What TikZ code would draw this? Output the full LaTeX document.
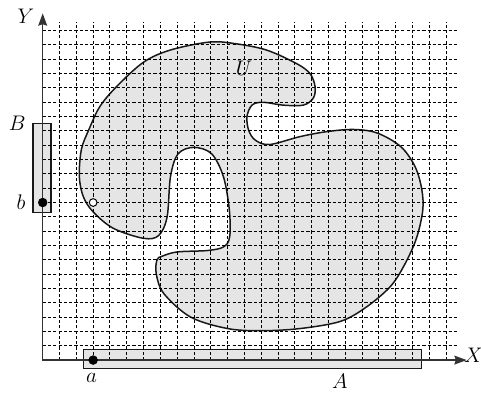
\documentclass[tikz,border=0pt]{standalone}
\usepackage{tikz}
\usetikzlibrary{arrows.meta}
\begin{document}
\begin{tikzpicture}[x=0.3362cm, y=0.2864cm, font=\fontsize{12}{14}\selectfont,
  grade/.style={black, line width=0.55pt, dash pattern=on 1.8pt off 1.2pt},
  eixo/.style={black!80, line width=0.9pt},
  faixa/.style={draw=black!90, fill=black!10, line width=0.7pt},
  regiao/.style={draw=black!90, fill=black!10, line width=0.85pt},
  ponto/.style={circle, fill=black, inner sep=0pt, minimum size=5.4pt},
  vazio/.style={circle, draw=black, fill=white, line width=0.55pt, inner sep=0pt, minimum size=4.4pt},
  rotulo/.style={inner sep=0pt}]
  \useasboundingbox (-2.54,-2.374) rectangle (26.07,25.14);
  % conjunto U, com o buraco e o gancho
  \draw[regiao] plot[smooth cycle, tension=0.55] coordinates {
    (2.18,12.8) (2.3,14.7) (2.75,16.1) (3.4,17.7) (4.4,19.1) (6.0,20.8)
    (7.6,21.65) (9.9,22.2) (11.4,22.1) (13.3,21.65) (15.1,20.7) (15.9,20.0)
    (16.2,19.1) (16.1,18.3) (15.5,17.8) (14.3,17.8) (13.1,18.0) (12.45,17.8)
    (12.15,17.0) (12.25,16.05) (12.65,15.35) (13.5,15.05) (15.3,15.6) (16.9,15.95)
    (18.5,16.1) (19.9,15.85) (21.3,14.9) (22.15,13.5) (22.55,11.9) (22.6,10.4)
    (22.2,8.4) (21.45,6.5) (20.65,5.1) (19.25,3.7) (17.7,2.7) (15.3,2.2)
    (13.0,2.05) (11.0,2.2) (8.8,3.0) (7.2,4.65) (6.75,6.05) (6.8,7.0)
    (7.1,7.25) (8.0,7.55) (9.8,7.65) (10.75,7.9) (11.12,8.6) (11.1,10.5)
    (10.75,12.8) (10.05,14.4) (9.0,14.85) (8.05,14.4) (7.6,12.8) (7.4,10.0)
    (6.9,8.7) (6.0,8.5) (4.2,9.2) (3.0,10.35) (2.42,11.4)};
  \path[faixa] (2.42,-0.58) rectangle (22.55,0.75);
  \path[faixa] (-0.58,10.31) rectangle (0.5,16.53);
  \foreach \gx in {1,...,24}
    \draw[grade] (\gx,0) -- (\gx,23.62);
  \foreach \gy in {1,...,23}
    \draw[grade] (0,\gy) -- (24.63,\gy);
  \coordinate (O) at (0,0);
  \coordinate (xfim) at (25.22,0);
  \coordinate (yfim) at (0,24.21);
  \draw[eixo, {Stealth[length=7pt,width=5pt,inset=0.8pt]}-{Stealth[length=7pt,width=5pt,inset=0.8pt]}]
    (yfim) -- (O) -- (xfim);
  \node[rotulo] (rX) at (25.63,0.35) {$X$};
  \node[rotulo] (rY) at (-1.0,23.97) {$Y$};
  \node[rotulo] (rU) at (11.97,20.37) {$U$};
  \node[rotulo] (rA) at (17.67,-1.45) {$A$};
  \node[rotulo] (rB) at (-1.51,16.5) {$B$};
  \node[ponto] (a) at (3,0) {};
  \node[ponto] (b) at (0,11) {};
  \node[vazio] (p) at (3,11) {};
  \node[rotulo] (ra) at (2.91,-1.28) {$a$};
  \node[rotulo] (rb) at (-1.29,11.0) {$b$};
\end{tikzpicture}
\end{document}
